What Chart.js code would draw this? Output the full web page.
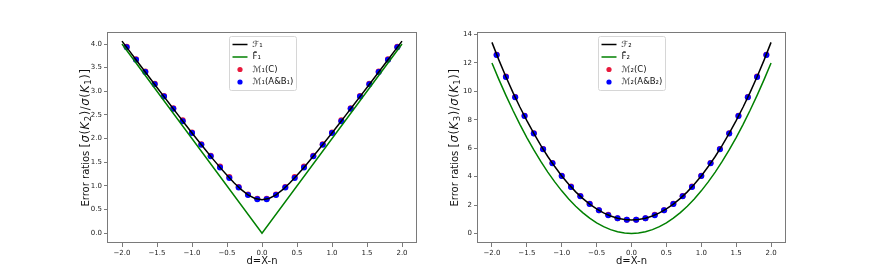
<!DOCTYPE html>
<html>
<head>
<meta charset="utf-8">
<script src="https://cdn.jsdelivr.net/npm/chart.js@4/dist/chart.umd.min.js"></script>
<style>
  body { margin: 0; background: #fff; }
  canvas { position: absolute; top: 0; }
  #left-chart { left: 0; }
  #right-chart { left: 400px; }
</style>
</head>
<body>
<canvas id="left-chart" width="436" height="273"></canvas>
<canvas id="right-chart" width="472" height="273"></canvas>
<script>
// d positions of the markers
const dPoints = [-1.933, -1.8, -1.667, -1.533, -1.4, -1.267, -1.133, -1.0, -0.867, -0.733, -0.6, -0.467, -0.333, -0.2, -0.067,
                 0.067, 0.2, 0.333, 0.467, 0.6, 0.733, 0.867, 1.0, 1.133, 1.267, 1.4, 1.533, 1.667, 1.8, 1.933];
// d positions of the curves
const dLine = [-2.0, -1.9, -1.8, -1.7, -1.6, -1.5, -1.4, -1.3, -1.2, -1.1, -1.0, -0.9, -0.8, -0.7, -0.6, -0.5, -0.4, -0.3, -0.2, -0.1, 0.0,
               0.1, 0.2, 0.3, 0.4, 0.5, 0.6, 0.7, 0.8, 0.9, 1.0, 1.1, 1.2, 1.3, 1.4, 1.5, 1.6, 1.7, 1.8, 1.9, 2.0];

// left panel
const f1Line = [4.062, 3.865, 3.669, 3.473, 3.277, 3.082, 2.888, 2.694, 2.502, 2.311, 2.121, 1.934, 1.749, 1.568, 1.393, 1.225, 1.068, 0.927, 0.812, 0.735, 0.707,
                0.735, 0.812, 0.927, 1.068, 1.225, 1.393, 1.568, 1.749, 1.934, 2.121, 2.311, 2.502, 2.694, 2.888, 3.082, 3.277, 3.473, 3.669, 3.865, 4.062];
const dBar1 = [-2.0, 0.0, 2.0];
const f1Bar = [4.0, 0.0, 4.0];
const m1C = [3.94, 3.68, 3.42, 3.16, 2.90, 2.64, 2.39, 2.13, 1.88, 1.64, 1.41, 1.19, 0.98, 0.82, 0.73,
             0.73, 0.82, 0.98, 1.19, 1.41, 1.64, 1.88, 2.13, 2.39, 2.64, 2.90, 3.16, 3.42, 3.68, 3.94];
const m1AB = [3.93, 3.67, 3.41, 3.15, 2.89, 2.63, 2.37, 2.12, 1.87, 1.63, 1.39, 1.17, 0.97, 0.81, 0.72,
              0.72, 0.81, 0.97, 1.17, 1.39, 1.63, 1.87, 2.12, 2.37, 2.63, 2.89, 3.15, 3.41, 3.67, 3.93];

// right panel
const f2Line = [13.45, 12.2, 11.03, 9.93, 8.90, 7.94, 7.04, 6.20, 5.42, 4.71, 4.05, 3.46, 2.93, 2.47, 2.066, 1.725, 1.446, 1.229, 1.074, 0.981, 0.95,
                0.981, 1.074, 1.229, 1.446, 1.725, 2.066, 2.47, 2.93, 3.46, 4.05, 4.71, 5.42, 6.20, 7.04, 7.94, 8.90, 9.93, 11.03, 12.2, 13.45];
const f2Bar = [12.0, 10.83, 9.72, 8.67, 7.68, 6.75, 5.88, 5.07, 4.32, 3.63, 3.0, 2.43, 1.92, 1.47, 1.08, 0.75, 0.48, 0.27, 0.12, 0.03, 0.0,
               0.03, 0.12, 0.27, 0.48, 0.75, 1.08, 1.47, 1.92, 2.43, 3.0, 3.63, 4.32, 5.07, 5.88, 6.75, 7.68, 8.67, 9.72, 10.83, 12.0];
const m2C = [12.58, 11.05, 9.60, 8.28, 7.06, 5.95, 4.96, 4.07, 3.30, 2.64, 2.09, 1.64, 1.31, 1.08, 0.97,
             0.97, 1.08, 1.31, 1.64, 2.09, 2.64, 3.30, 4.07, 4.96, 5.95, 7.06, 8.28, 9.60, 11.05, 12.58];
const m2AB = [12.56, 11.02, 9.58, 8.26, 7.04, 5.93, 4.94, 4.05, 3.28, 2.62, 2.07, 1.63, 1.29, 1.07, 0.96,
              0.96, 1.07, 1.29, 1.63, 2.07, 2.62, 3.28, 4.05, 4.94, 5.93, 7.04, 8.26, 9.58, 11.02, 12.56];

const xTicks = [-2.0, -1.5, -1.0, -0.5, 0.0, 0.5, 1.0, 1.5, 2.0];
const yTicks1 = [0.0, 0.5, 1.0, 1.5, 2.0, 2.5, 3.0, 3.5, 4.0];
const yTicks2 = [0, 2, 4, 6, 8, 10, 12, 14];

const legend1 = ['\u2131\u2081', 'F\u0304\u2081', '\u2133\u2081(C)', '\u2133\u2081(A&B\u2081)'];
const legend2 = ['\u2131\u2082', 'F\u0304\u2082', '\u2133\u2082(C)', '\u2133\u2082(A&B\u2082)'];

// y title pieces: n = upright, i = italic, s = subscript
const yTitle1 = [['Error ratios ', 't'], ['[', 'n'], ['\u03c3', 'i'], ['(', 'n'], ['K', 'i'], ['2', 's'], [')/', 'n'],
                 ['\u03c3', 'i'], ['(', 'n'], ['K', 'i'], ['1', 's'], [')]', 'n']];
const yTitle2 = [['Error ratios ', 't'], ['[', 'n'], ['\u03c3', 'i'], ['(', 'n'], ['K', 'i'], ['3', 's'], [')/', 'n'],
                 ['\u03c3', 'i'], ['(', 'n'], ['K', 'i'], ['1', 's'], [')]', 'n']];

const FONT = 'DejaVu Sans';
const SPINE = '#7a7a7a';

function pairs(xs, ys) {
    return xs.map((x, i) => ({ x: x, y: ys[i] }));
}

function fmtMinus(v, digits) {
    const s = Math.abs(v).toFixed(digits);
    return v < 0 ? '\u2212' + s : s;
}

function pieceFont(kind) {
    if (kind === 't') return '10px "' + FONT + '"';
    if (kind === 'i') return 'italic 11.5px "' + FONT + '"';
    if (kind === 's') return '8.5px "' + FONT + '"';
    return '11.5px "' + FONT + '"';
}

// box around the plot area
const framePlugin = {
    id: 'frame',
    afterDatasetsDraw(chart) {
        const a = chart.chartArea;
        const ctx = chart.ctx;
        ctx.save();
        ctx.strokeStyle = SPINE;
        ctx.lineWidth = 1;
        ctx.strokeRect(Math.round(a.left) - 0.5, Math.round(a.top) + 0.5,
                       Math.round(a.right - a.left) + 1, Math.round(a.bottom - a.top) - 1);
        ctx.restore();
    }
};

// rotated y title with mathtext-like pieces
const yTitlePlugin = {
    id: 'yTitle',
    afterDraw(chart, args, opts) {
        const ctx = chart.ctx;
        const a = chart.chartArea;
        ctx.save();
        ctx.fillStyle = '#111';
        ctx.textBaseline = 'middle';
        let total = 0;
        opts.pieces.forEach(p => {
            ctx.font = pieceFont(p[1]);
            ctx.letterSpacing = p[1] === 't' ? '0px' : '0.6px';
            total += ctx.measureText(p[0]).width;
        });
        ctx.translate(opts.x, (a.top + a.bottom) / 2);
        ctx.rotate(-Math.PI / 2);
        let x = -total / 2;
        opts.pieces.forEach(p => {
            ctx.font = pieceFont(p[1]);
            ctx.letterSpacing = p[1] === 't' ? '0px' : '0.6px';
            ctx.fillText(p[0], x, p[1] === 's' ? 3 : 0);
            x += ctx.measureText(p[0]).width;
        });
        ctx.restore();
    }
};

// matplotlib-like legend, upper center
const legendPlugin = {
    id: 'mplLegend',
    afterDraw(chart, args, opts) {
        const ctx = chart.ctx;
        const a = chart.chartArea;
        const w = 67, h = 54;
        const x0 = Math.round((a.left + a.right) / 2 - w / 2) + 0.5;
        const y0 = a.top + 4.5;
        ctx.save();
        ctx.fillStyle = 'rgba(255,255,255,0.85)';
        ctx.strokeStyle = '#d6d6d6';
        ctx.lineWidth = 1;
        ctx.beginPath();
        ctx.roundRect(x0, y0, w, h, 2);
        ctx.fill();
        ctx.stroke();
        const items = [
            { type: 'line', color: '#000000' },
            { type: 'line', color: '#008000' },
            { type: 'dot', color: '#e8193c' },
            { type: 'dot', color: '#0000ff' }
        ];
        ctx.font = '8.5px "' + FONT + '"';
        ctx.textBaseline = 'middle';
        items.forEach((it, i) => {
            const cy = y0 + 8 + i * 12.5;
            if (it.type === 'line') {
                ctx.strokeStyle = it.color;
                ctx.lineWidth = 1.5;
                ctx.beginPath();
                ctx.moveTo(x0 + 3, cy);
                ctx.lineTo(x0 + 18, cy);
                ctx.stroke();
            } else {
                ctx.fillStyle = it.color;
                ctx.beginPath();
                ctx.arc(x0 + 10.5, cy, 2.6, 0, Math.PI * 2);
                ctx.fill();
            }
            ctx.fillStyle = '#111';
            ctx.fillText(opts.labels[i], x0 + 23, cy);
        });
        ctx.restore();
    }
};

function makeChart(id, cfg) {
    const ctx = document.getElementById(id).getContext('2d');
    return new Chart(ctx, {
        type: 'scatter',
        data: {
            datasets: [
                { data: pairs(dLine, cfg.fLine), showLine: true, borderColor: '#000000', borderWidth: 1.5, pointRadius: 0, order: 0 },
                { data: pairs(cfg.dBar, cfg.fBar), showLine: true, borderColor: '#008000', borderWidth: 1.5, pointRadius: 0, order: 1 },
                { data: pairs(dPoints, cfg.mAB), backgroundColor: '#0000ff', borderWidth: 0, pointRadius: 3, order: 2 },
                { data: pairs(dPoints, cfg.mC), backgroundColor: '#e8193c', borderWidth: 0, pointRadius: 3, order: 3 }
            ]
        },
        options: {
            responsive: false,
            animation: false,
            layout: { padding: { left: cfg.padLeft, top: 32, right: cfg.padRight, bottom: 0 } },
            plugins: {
                legend: { display: false },
                tooltip: { enabled: false },
                mplLegend: { labels: cfg.legend },
                yTitle: { pieces: cfg.yTitle, x: cfg.titleX }
            },
            scales: {
                x: {
                    type: 'linear',
                    min: -2.2,
                    max: 2.2,
                    afterBuildTicks: s => { s.ticks = xTicks.map(v => ({ value: v })); },
                    afterFit: s => { s.height = 30; },
                    grid: { drawOnChartArea: false, drawTicks: true, tickLength: 4, color: SPINE },
                    border: { display: false },
                    ticks: { font: { family: FONT, size: 7 }, color: '#222', padding: 2, maxRotation: 0,
                             callback: v => fmtMinus(v, 1) },
                    title: { display: true, text: 'd=X-n', font: { family: FONT, size: 10 }, color: '#111', padding: 6 }
                },
                y: {
                    min: cfg.yMin,
                    max: cfg.yMax,
                    afterBuildTicks: s => { s.ticks = cfg.yTicks.map(v => ({ value: v })); },
                    afterFit: s => { s.width = 38; },
                    grid: { drawOnChartArea: false, drawTicks: true, tickLength: 4, color: SPINE },
                    border: { display: false },
                    ticks: { font: { family: FONT, size: 7 }, color: '#222', padding: 2,
                             callback: v => fmtMinus(v, cfg.digits) },
                    title: { display: false }
                }
            }
        },
        plugins: [framePlugin, legendPlugin, yTitlePlugin]
    });
}

makeChart('left-chart', {
    fLine: f1Line, dBar: dBar1, fBar: f1Bar, mC: m1C, mAB: m1AB,
    yMin: -0.205, yMax: 4.254, yTicks: yTicks1, digits: 1,
    yTitle: yTitle1, titleX: 86,
    legend: legend1, padLeft: 70, padRight: 20
});

makeChart('right-chart', {
    fLine: f2Line, dBar: dLine, fBar: f2Bar, mC: m2C, mAB: m2AB,
    yMin: -0.67, yMax: 14.18, yTicks: yTicks2, digits: 0,
    yTitle: yTitle2, titleX: 55,
    legend: legend2, padLeft: 40, padRight: 87
});
</script>
</body>
</html>
